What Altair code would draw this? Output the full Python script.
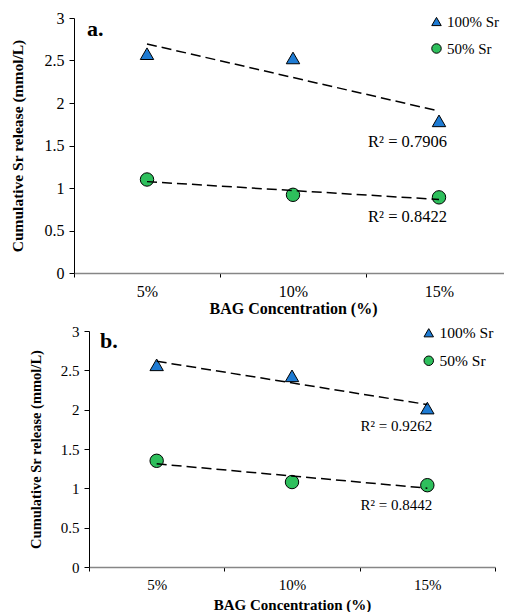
import altair as alt
import pandas as pd

categories = ["5%", "10%", "15%"]
series_names = ["100% Sr", "50% Sr"]

a_100 = [2.58, 2.53, 1.79]
a_50 = [1.10, 0.92, 0.89]
b_100 = [2.57, 2.43, 2.02]
b_50 = [1.35, 1.08, 1.04]

a_r2 = ["R² = 0.7906", "R² = 0.8422"]
b_r2 = ["R² = 0.9262", "R² = 0.8442"]
a_r2_y = [1.54, 0.66]
b_r2_y = [1.79, 0.79]

y_ticks = [0, 0.5, 1, 1.5, 2, 2.5, 3]

FONT = "Liberation Serif"
BLUE = "#1E7BD3"
GREEN = "#2EBF5C"

label_expr = (
    f"datum.value == 1 ? '{categories[0]}' : datum.value == 2 ? '{categories[1]}' : "
    f"datum.value == 3 ? '{categories[2]}' : ''"
)


def panel(v100, v50, r2, r2y, letter, w, x_range, y_off, h, fs, tfs, xtfs, leg_fs, r2_fs,
          leg_x, leg_y, row_pad, title_pad, x_lab_pad, x_title_pad, r2_dx, letter_xy):
    rows = []
    for i, c in enumerate(categories):
        rows.append({"xi": i + 1, "series": series_names[0], "y": v100[i]})
        rows.append({"xi": i + 1, "series": series_names[1], "y": v50[i]})
    df = pd.DataFrame(rows)

    x = alt.X(
        "xi:O",
        scale=alt.Scale(type="band", domain=[1, 2, 3], paddingInner=0, paddingOuter=0, range=x_range),
        axis=alt.Axis(
            labelExpr=label_expr,
            labelAngle=0,
            tickBand="extent",
            grid=False,
            title="BAG Concentration (%)",
            titleFont=FONT,
            titleFontSize=xtfs,
            titleFontWeight="bold",
            titleColor="black",
            titlePadding=x_title_pad,
            labelFont=FONT,
            labelFontSize=fs,
            labelColor="black",
            labelPadding=x_lab_pad,
            tickSize=4,
            tickColor="black",
            domainColor="#868686",
            domainWidth=1.5,
        ),
    )
    y = alt.Y(
        "y:Q",
        scale=alt.Scale(domain=[0, 3], nice=False),
        axis=alt.Axis(
            values=y_ticks,
            format="~g",
            grid=False,
            offset=y_off,
            labelOverlap=False,
            title="Cumulative Sr release (mmol/L)",
            titleFont=FONT,
            titleFontSize=tfs,
            titleFontWeight="bold",
            titleColor="black",
            titlePadding=title_pad,
            labelFont=FONT,
            labelFontSize=fs,
            labelColor="black",
            labelPadding=5,
            tickSize=5,
            tickColor="black",
            domainColor="black",
        ),
    )

    leg = alt.Legend(
        orient="none",
        legendX=leg_x,
        legendY=leg_y,
        title=None,
        labelFont=FONT,
        labelFontSize=leg_fs,
        labelColor="black",
        labelOffset=3,
        symbolSize=90,
        symbolStrokeColor="black",
        symbolStrokeWidth=1,
        rowPadding=row_pad,
    )

    base = alt.Chart(df)
    points = base.mark_point(filled=True, stroke="black", strokeWidth=1, size=180, opacity=1).encode(
        x=x,
        y=y,
        color=alt.Color("series:N", scale=alt.Scale(domain=series_names, range=[BLUE, GREEN]), legend=leg),
        shape=alt.Shape("series:N", scale=alt.Scale(domain=series_names, range=["triangle-up", "circle"]),
                        legend=leg),
    )
    trend = base.transform_regression("xi", "y", groupby=["series"]).mark_line(
        color="black", strokeDash=[10, 5], strokeWidth=1.5
    ).encode(x=x, y=y, detail="series:N")

    r2_df = pd.DataFrame({"xi": [3, 3], "y": r2y, "t": r2})
    r2_text = alt.Chart(r2_df).mark_text(
        align="right", baseline="middle", dx=r2_dx, font=FONT, fontSize=r2_fs, color="black"
    ).encode(x=x, y=y, text="t:N")

    letter_df = pd.DataFrame({"t": [letter]})
    letter_text = alt.Chart(letter_df).mark_text(
        align="left", baseline="middle", font=FONT, fontSize=22, fontWeight="bold", color="black"
    ).encode(x=alt.value(letter_xy[0]), y=alt.value(letter_xy[1]), text="t:N")

    return alt.layer(points, trend, r2_text, letter_text).properties(width=w, height=h)


top = panel(a_100, a_50, a_r2, a_r2_y, "a.", 438, [0, 438], 0, 255,
            16, 15.5, 16, 15, 16.5, 355, -4, 11, 19, 6, 1, 8, (13, 11))
bottom = panel(b_100, b_50, b_r2, b_r2_y, "b.", 421, [15, 421], -15, 236,
               15, 14.5, 15, 15.5, 15, 347, -6, 11, 17, 6, 5, 5, (26, 10))

chart = (
    alt.vconcat(top, bottom, spacing=8)
    .resolve_scale(color="independent", shape="independent")
    .resolve_legend(color="independent", shape="independent")
    .properties(padding={"left": 2, "top": 2, "right": -9, "bottom": 0})
    .configure_view(stroke=None)
)

chart.save("out.html", embed_options={"renderer": "svg", "actions": False})
